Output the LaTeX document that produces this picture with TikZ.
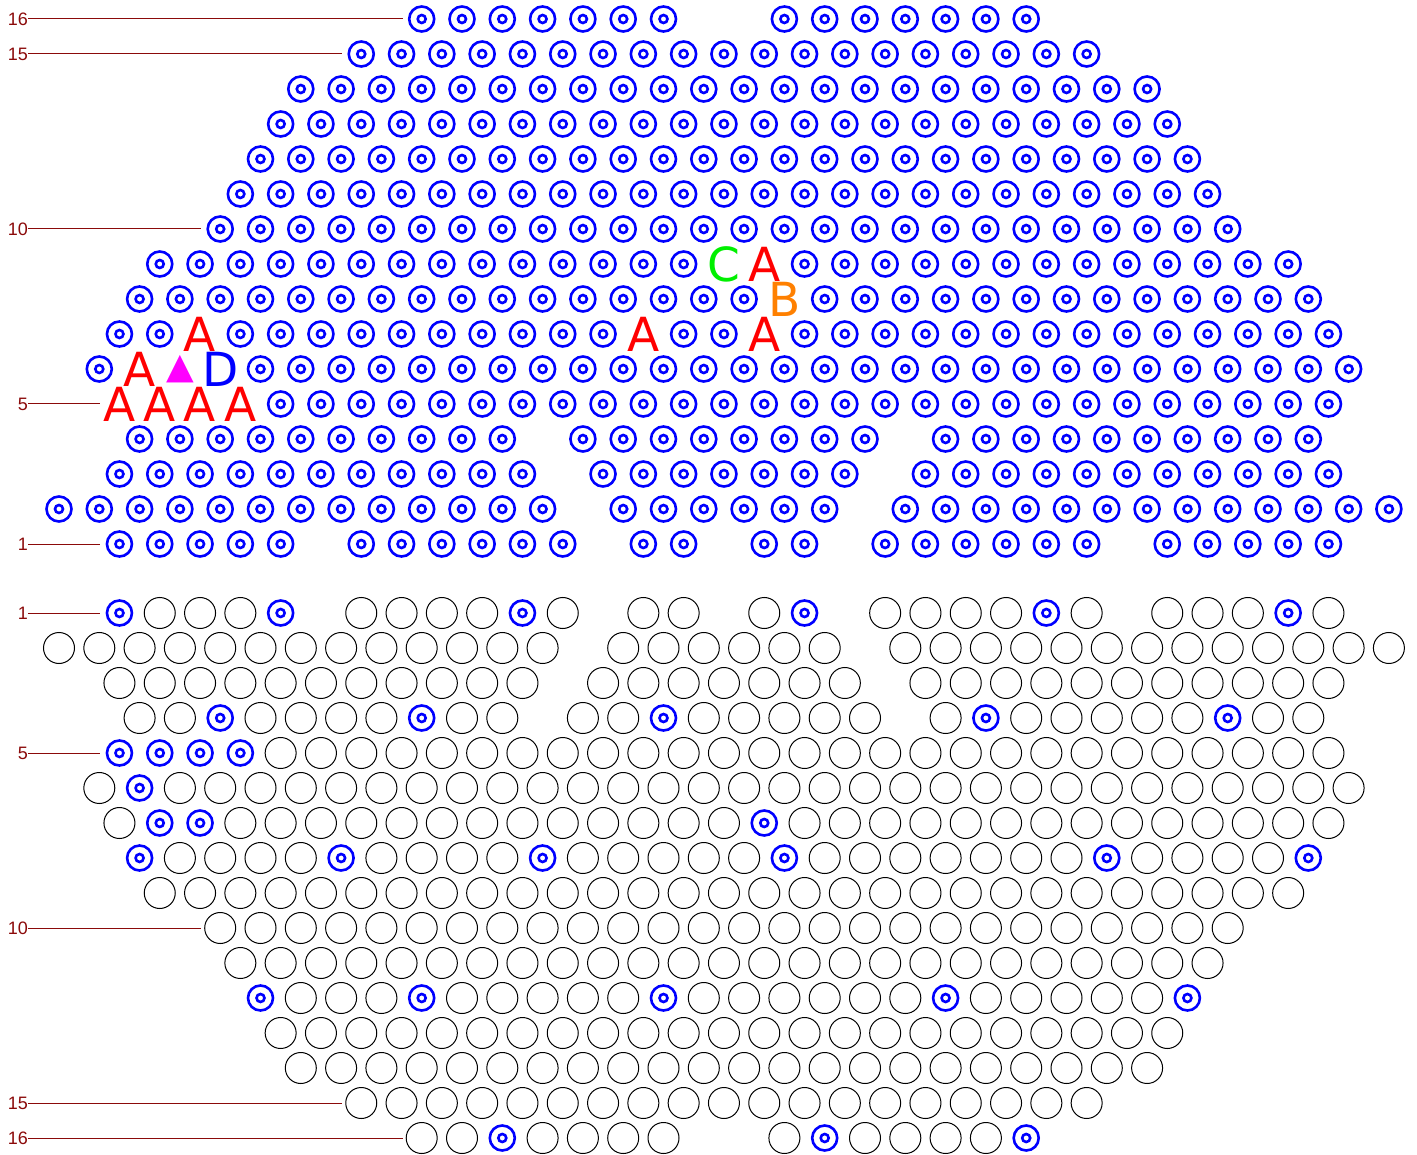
\documentclass[tikz,border=0pt]{standalone}
\usepackage{fontspec}
\setmainfont{Liberation Sans}
\newfontfamily\letfont{DejaVu Sans}
\definecolor{lab}{RGB}{139,10,10}
\definecolor{bl}{RGB}{0,0,255}
\definecolor{lred}{RGB}{255,0,0}
\definecolor{lgreen}{RGB}{0,240,0}
\definecolor{lorange}{RGB}{255,128,0}
\definecolor{lmag}{RGB}{255,0,255}
\newcommand\topblue[2]{%
  \pgfmathsetmacro\yy{19+(16-#1)*35}%
  \foreach \k in {#2}{%
    \pgfmathsetmacro\xx{59+\k*20.15}%
    \node[bcirc] (t#1-\k) at (\xx,\yy) {};
    \draw[bl,line width=2.6pt] (t#1-\k.center) circle[radius=4pt];
  }}
\newcommand\markblue[2]{\foreach \k in {#2}{\expandafter\xdef\csname bb-#1-\k\endcsname{1}}}
\newcommand\botrow[2]{%
  \pgfmathsetmacro\yy{613+(#1-1)*35}%
  \foreach \k in {#2}{%
    \pgfmathsetmacro\xx{59+\k*20.15}%
    \ifcsname bb-#1-\k\endcsname
      \node[bcirc] (b#1-\k) at (\xx,\yy) {};
      \draw[bl,line width=2.6pt] (b#1-\k.center) circle[radius=4pt];
    \else
      \node[kcirc] (b#1-\k) at (\xx,\yy) {};
    \fi
  }}
\newcommand\putletter[4]{%
  \pgfmathsetmacro\xx{59+#2*20.15}%
  \pgfmathsetmacro\yy{19+(16-#1)*35}%
  \node[#3] (L#1-#2) at (\xx,\yy) {#4};}
\newcommand\rowlabel[4]{% name, y, text, first k
  \pgfmathsetmacro\xe{59+#4*20.15-19}%
  \node[rowlab] (#1) at (28,#2) {#3};
  \coordinate (#1e) at (\xe,#2);
  \draw[labline] (#1.east) -- (#1e);}
\begin{document}
\begin{tikzpicture}[x=1pt,y=-1pt,
  bcirc/.style={circle,draw=bl,line width=2.6pt,minimum size=25pt,inner sep=0pt,outer sep=0pt},
  kcirc/.style={circle,draw=black,line width=1pt,minimum size=31pt,inner sep=0pt,outer sep=0pt},
  rowlab/.style={text=lab,font=\fontsize{18}{18}\selectfont,anchor=east,inner sep=0pt,outer sep=0pt},
  labline/.style={draw=lab,line width=1pt},
  bigletter/.style={font=\letfont\fontsize{47}{47}\selectfont,inner sep=0pt,anchor=center},
  lA/.style={bigletter,text=lred},
  lB/.style={bigletter,text=lorange},
  lC/.style={bigletter,text=lgreen},
  lD/.style={bigletter,text=bl},
  ltri/.style={font=\letfont\fontsize{36}{36}\selectfont,inner sep=0pt,anchor=center,text=lmag}
]
\useasboundingbox (0,0) rectangle (1417,1155);
% ---------- top half ----------
\topblue{16}{18,20,...,30,36,38,...,48}
\topblue{15}{15,17,...,51}
\topblue{14}{12,14,...,54}
\topblue{13}{11,13,...,55}
\topblue{12}{10,12,...,56}
\topblue{11}{9,11,...,57}
\topblue{10}{8,10,...,58}
\topblue{9}{5,7,...,31,37,39,...,61}
\topblue{8}{4,6,...,34,38,40,...,62}
\topblue{7}{3,5,9,11,...,27,31,33,37,39,...,63}
\topblue{6}{2,10,12,...,64}
\topblue{5}{11,13,...,63}
\topblue{4}{4,6,...,22,26,28,...,40,44,46,...,62}
\topblue{3}{3,5,...,23,27,29,...,39,43,45,...,63}
\topblue{2}{0,2,...,24,28,30,...,38,42,44,...,66}
\topblue{1}{3,5,...,11,15,17,...,25,29,31,35,37,41,43,...,51,55,57,...,63}
\putletter{9}{33}{lC}{C}
\putletter{9}{35}{lA}{A}
\putletter{8}{36}{lB}{B}
\putletter{7}{7}{lA}{A}
\putletter{7}{29}{lA}{A}
\putletter{7}{35}{lA}{A}
\putletter{6}{4}{lA}{A}
\putletter{6}{6}{ltri}{▲}
\putletter{6}{8}{lD}{D}
\putletter{5}{3}{lA}{A}
\putletter{5}{5}{lA}{A}
\putletter{5}{7}{lA}{A}
\putletter{5}{9}{lA}{A}
% ---------- bottom half ----------
\markblue{1}{3,11,23,37,49,61}
\markblue{4}{8,18,30,46,58}
\markblue{5}{3,5,7,9}
\markblue{6}{4}
\markblue{7}{5,7,35}
\markblue{8}{4,14,24,36,52,62}
\markblue{12}{10,18,30,44,56}
\markblue{16}{22,38,48}
\botrow{1}{3,5,...,11,15,17,...,25,29,31,35,37,41,43,...,51,55,57,...,63}
\botrow{2}{0,2,...,24,28,30,...,38,42,44,...,66}
\botrow{3}{3,5,...,23,27,29,...,39,43,45,...,63}
\botrow{4}{4,6,...,22,26,28,...,40,44,46,...,62}
\botrow{5}{3,5,...,63}
\botrow{6}{2,4,...,64}
\botrow{7}{3,5,...,63}
\botrow{8}{4,6,...,62}
\botrow{9}{5,7,...,61}
\botrow{10}{8,10,...,58}
\botrow{11}{9,11,...,57}
\botrow{12}{10,12,...,56}
\botrow{13}{11,13,...,55}
\botrow{14}{12,14,...,54}
\botrow{15}{15,17,...,51}
\botrow{16}{18,20,...,30,36,38,...,48}
% ---------- row labels ----------
\rowlabel{lt16}{19}{16}{18}
\rowlabel{lt15}{54}{15}{15}
\rowlabel{lt10}{229}{10}{8}
\rowlabel{lt5}{404}{5}{3}
\rowlabel{lt1}{544}{1}{3}
\rowlabel{lb1}{613}{1}{3}
\rowlabel{lb5}{753}{5}{3}
\rowlabel{lb10}{928}{10}{8}
\rowlabel{lb15}{1103}{15}{15}
\rowlabel{lb16}{1138}{16}{18}
\end{tikzpicture}
\end{document}
